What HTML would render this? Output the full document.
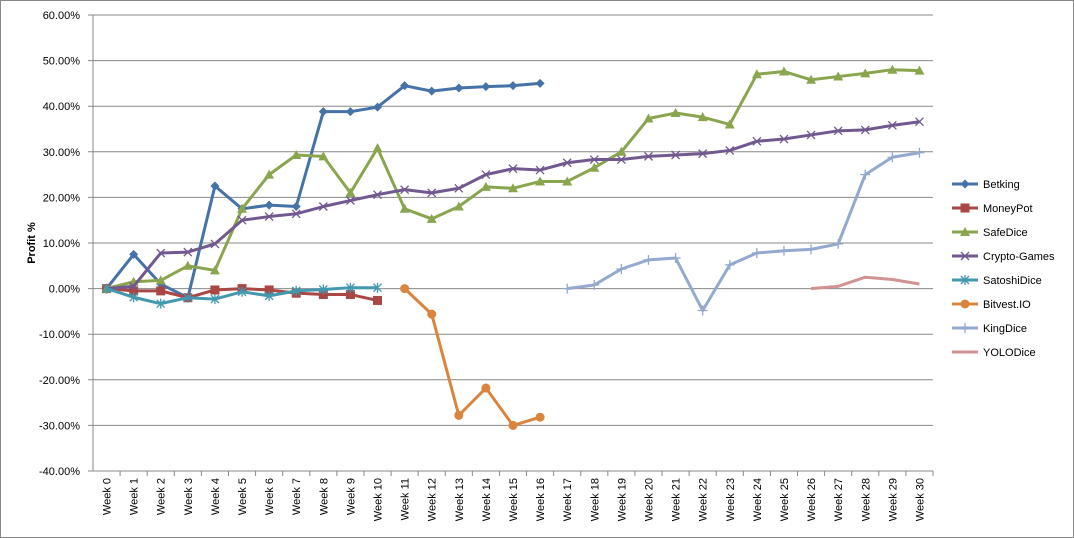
<!DOCTYPE html>
<html><head><meta charset="utf-8"><style>
body{margin:0;background:#fff;font-family:"Liberation Sans",sans-serif}
svg{display:block}
</style></head><body>
<svg id="c" width="1074" height="538" xmlns="http://www.w3.org/2000/svg">
<rect x="0.5" y="0.5" width="1073" height="537" fill="#fff" stroke="#888"/>
<text x="35" y="243" transform="rotate(-90 35 243)" text-anchor="middle" font-size="11" font-weight="bold">Profit %</text>
<g id="grid"></g><g id="series"></g><g id="legend"></g>
</svg>
<script>
const weeks=[];for(let i=0;i<=30;i++)weeks.push('Week '+i);
const yTicks=[60,50,40,30,20,10,0,-10,-20,-30,-40];
const seriesNames=['Betking','MoneyPot','SafeDice','Crypto-Games','SatoshiDice','Bitvest.IO','KingDice','YOLODice'];
const seriesStart=[0,0,0,0,0,11,17,26];
const betking=[0,7.5,1,-2,22.5,17.5,18.3,18,38.8,38.8,39.8,44.5,43.3,44,44.3,44.5,45];
const moneyPot=[0,-0.5,-0.5,-2,-0.3,0,-0.3,-1,-1.3,-1.3,-2.6];
const safeDice=[0,1.5,1.8,5,4,17.5,25,29.3,29,21,30.8,17.5,15.3,18,22.3,22,23.5,23.5,26.5,30,37.3,38.5,37.6,36,47,47.6,45.8,46.5,47.2,48,47.8];
const cryptoGames=[0,0.5,7.8,8,9.8,15,15.8,16.4,18,19.3,20.6,21.7,21,22,25,26.3,26,27.6,28.3,28.3,29,29.3,29.6,30.3,32.3,32.8,33.7,34.6,34.8,35.8,36.6];
const satoshiDice=[0,-1.9,-3.3,-2,-2.3,-0.7,-1.6,-0.5,-0.2,0.2,0.2];
const bitvest=[0,-5.6,-27.8,-21.8,-30,-28.2];
const kingDice=[0,0.8,4.3,6.3,6.7,-4.8,5.2,7.8,8.3,8.6,9.8,25,28.8,29.8];
const yoloDice=[0,0.5,2.5,2,1];
const allValues=[betking,moneyPot,safeDice,cryptoGames,satoshiDice,bitvest,kingDice,yoloDice];
const colors=['#4572A7','#AA4643','#89A54E','#71588F','#4198AF','#DB843D','#93A9CF','#D19392'];
const markers=['diamond','square','triangle','x','star','circle','plus','none'];
const NS='http://www.w3.org/2000/svg';
const L=93,R=933,T=15,B=471;
const cw=(R-L)/weeks.length;
const xS=i=>L+cw*(i+0.5);
const yS=v=>T+(60-v)/100*(B-T);
function mk(tag,at,parent){const e=document.createElementNS(NS,tag);for(const k in at)e.setAttribute(k,at[k]);parent.appendChild(e);return e;}
const g=document.getElementById('grid');
yTicks.forEach(t=>{
 const ln=mk('line',{x1:L-5,x2:R,y1:yS(t),y2:yS(t),stroke:'#888','stroke-width':1},g);
 
 
 const tx=mk('text',{x:80,y:yS(t)+4,'text-anchor':'end','font-size':11},g);
 tx.textContent=t.toFixed(2)+'%';
 
 
});
mk('line',{x1:L,x2:L,y1:T,y2:B,stroke:'#888'},g);
weeks.forEach((w,i)=>{
 const x=L+cw*(i+1);
 mk('line',{x1:x,x2:x,y1:B,y2:B+5,stroke:'#888'},g);
 const tx=mk('text',{x:0,y:0,'text-anchor':'end','font-size':11,transform:`translate(${xS(i)+4},${B+7}) rotate(-90)`},g);
 tx.textContent=w;
 
 
});
function marker(type,x,y,c,p){
 const s=4.5;
 if(type==='diamond')return mk('polygon',{points:`${x},${y-s} ${x+s},${y} ${x},${y+s} ${x-s},${y}`,fill:c},p);
 if(type==='square')return mk('rect',{x:x-4.5,y:y-4.5,width:9,height:9,fill:c},p);
 if(type==='triangle')return mk('polygon',{points:`${x},${y-5} ${x+5},${y+4} ${x-5},${y+4}`,fill:c},p);
 if(type==='circle')return mk('circle',{cx:x,cy:y,r:4.5,fill:c},p);
 if(type==='x')return mk('path',{d:`M${x-4},${y-4}L${x+4},${y+4}M${x-4},${y+4}L${x+4},${y-4}`,stroke:c,'stroke-width':1.3},p);
 if(type==='star')return mk('path',{d:`M${x-4},${y-4}L${x+4},${y+4}M${x-4},${y+4}L${x+4},${y-4}M${x},${y-5}L${x},${y+5}`,stroke:c,'stroke-width':1.3},p);
 if(type==='plus')return mk('path',{d:`M${x-5},${y}L${x+5},${y}M${x},${y-5}L${x},${y+5}`,stroke:c,'stroke-width':1.3},p);
 return null;
}
const sg=document.getElementById('series');
allValues.forEach((vals,si)=>{
 const grp=mk('g',{},sg);
 
 
 const pts=vals.map((v,j)=>xS(seriesStart[si]+j)+','+yS(v)).join(' ');
 mk('polyline',{points:pts,fill:'none',stroke:colors[si],'stroke-width':3,'stroke-linejoin':'round'},grp);
 vals.forEach((v,j)=>{
  const m=marker(markers[si],xS(seriesStart[si]+j),yS(v),colors[si],grp);
  if(m){
  }
 });
});
const lg=document.getElementById('legend');
seriesNames.forEach((n,i)=>{
 const y=184+i*24;
 const e=mk('g',{},lg);
 
 
 mk('line',{x1:952,x2:978,y1:y,y2:y,stroke:colors[i],'stroke-width':3},e);
 marker(markers[i],965,y,colors[i],e);
 const t=mk('text',{x:983,y:y+4,'font-size':11},e);
 t.textContent=n;
});
</script>
</body></html>
